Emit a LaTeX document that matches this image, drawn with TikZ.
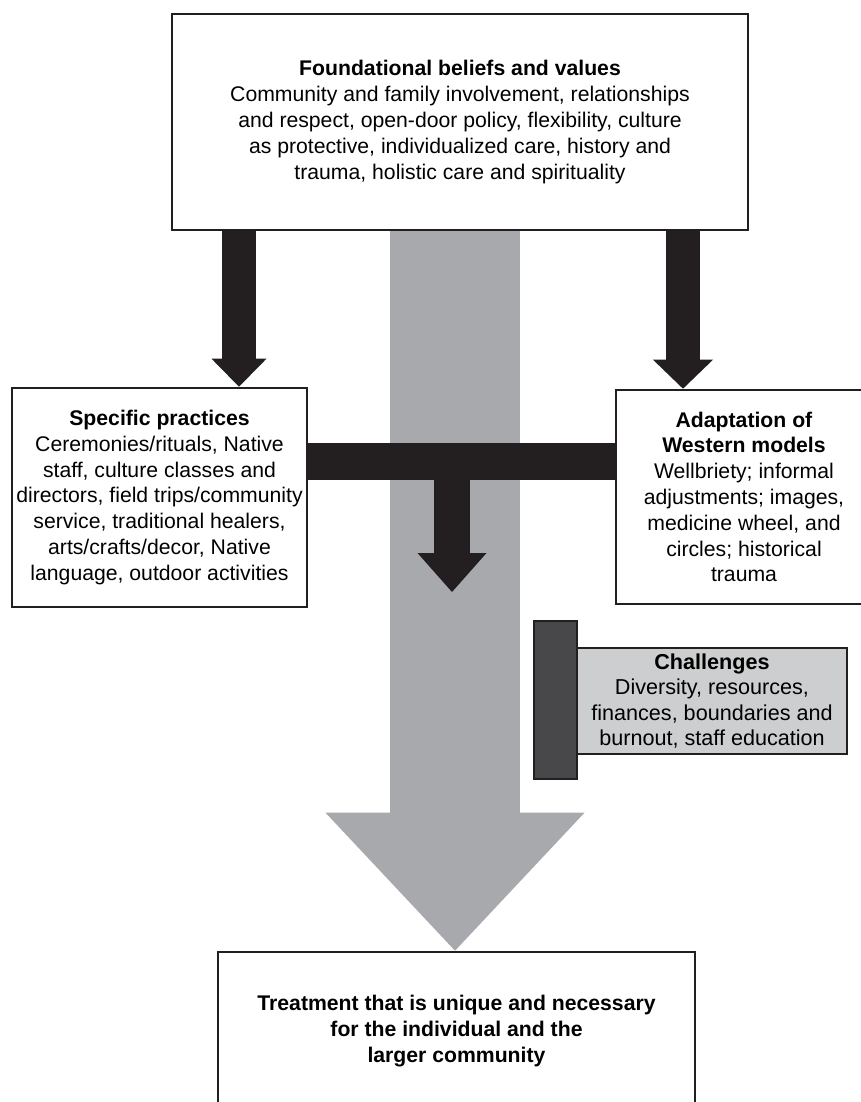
\documentclass[tikz,border=0pt]{standalone}
\usepackage{fontspec}
\setmainfont{Liberation Sans}
\usetikzlibrary{arrows.meta}
\definecolor{inkblack}{HTML}{231F20}
\definecolor{flowgray}{HTML}{A7A9AC}
\definecolor{postdark}{HTML}{48484A}
\definecolor{signgray}{HTML}{CDCECF}

\begin{document}
\begin{tikzpicture}[x=1pt,y=-1pt,
    box/.style={draw=inkblack,line width=2.6pt,fill=white,inner sep=0pt,
      align=center,font=\fontsize{21.2}{25.8}\selectfont},
    downarrow/.style n args={3}{draw=inkblack,line width=#1,
      -{Triangle[width=#2,length=#3,line width=0pt]}}]
      \useasboundingbox (0,0) rectangle (861,1102);
      % Boxes
      \node[box,minimum width=576pt,minimum height=216pt] (found) at (460,122)
        {\textbf{Foundational beliefs and values}\\
         Community and family involvement, relationships\\
         and respect, open-door policy, flexibility, culture\\
         as protective, individualized care, history and\\
         trauma, holistic care and spirituality};
      \node[box,minimum width=295pt,minimum height=219pt] (prac) at (159.5,497.5)
        {\textbf{Specific practices}\\
         Ceremonies/rituals, Native\\
         staff, culture classes and\\
         directors, field trips/community\\
         service, traditional healers,\\
         arts/crafts/decor, Native\\
         language, outdoor activities};
      \node[box,minimum width=256pt,minimum height=214pt] (adapt) at (744,497)
        {\textbf{Adaptation of}\\
         \textbf{Western models}\\
         Wellbriety; informal\\
         adjustments; images,\\
         medicine wheel, and\\
         circles; historical\\
         trauma};
      \node[box,minimum width=477pt,minimum height=158pt] (treat) at (456.5,1031)
        {\textbf{Treatment that is unique and necessary}\\
         \textbf{for the individual and the}\\
         \textbf{larger community}};
      % Challenges sign on its post
      \node[draw=inkblack,line width=2pt,fill=postdark,minimum width=43pt,
        minimum height=158pt,inner sep=0pt] (post) at (555.5,700) {};
      \node[box,fill=signgray,minimum width=270pt,minimum height=106pt,
        font=\fontsize{21.6}{25.5}\selectfont] (chall) at (712,701)
        {\textbf{Challenges}\\
         Diversity, resources,\\
         finances, boundaries and\\
         burnout, staff education};
      % Columns
      \coordinate (graycol) at (455,0);
      \coordinate (leftcol) at (239,0);
      \coordinate (rightcol) at (683,0);
      \coordinate (barlevel) at (0,461.5);
      \coordinate (midtip) at (452,592);
      % Main flow
      \draw[downarrow={130pt}{259pt}{138pt},draw=flowgray]
        (found.south -| graycol) -- (treat.north -| graycol);
      % Beliefs into practices and models
      \draw[downarrow={34pt}{55pt}{28pt}] (found.south -| leftcol) -- (prac.north -| leftcol);
      \draw[downarrow={34pt}{60pt}{29pt}] (found.south -| rightcol) -- (adapt.north -| rightcol);
      % Joining bar
      \draw[inkblack,line width=37pt] (prac.east |- barlevel) -- (adapt.west |- barlevel);
      \draw[downarrow={36pt}{69pt}{39pt}] (midtip |- barlevel) -- (midtip);
    \end{tikzpicture}
\end{document}
